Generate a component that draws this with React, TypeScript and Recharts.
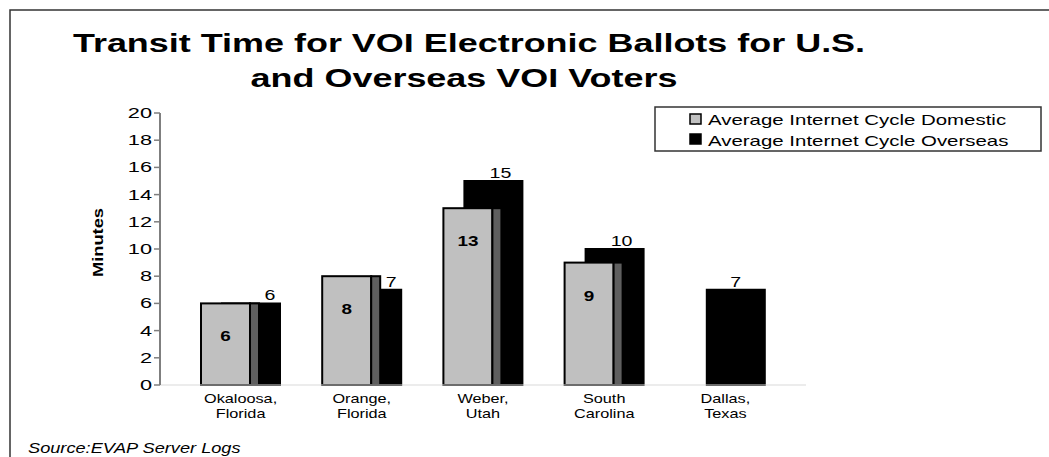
import { Bar, BarChart, LabelList, Legend, XAxis, YAxis } from 'recharts';

const FONT = "'Liberation Sans', Arial, sans-serif";

const CATEGORIES = ['Okaloosa, Florida', 'Orange, Florida', 'Weber, Utah', 'South Carolina', 'Dallas, Texas'];
const CATEGORY_LINES = [
  ['Okaloosa,', 'Florida'],
  ['Orange,', 'Florida'],
  ['Weber,', 'Utah'],
  ['South', 'Carolina'],
  ['Dallas,', 'Texas'],
];
const DOMESTIC = [6, 8, 13, 9, null];
const OVERSEAS = [6, 7, 15, 10, 7];
const Y_TICKS = [0, 2, 4, 6, 8, 10, 12, 14, 16, 18, 20];
const SERIES_NAMES = ['Average Internet Cycle Domestic', 'Average Internet Cycle Overseas'];

const rows = CATEGORIES.map((name, i) => ({
  name,
  domestic: DOMESTIC[i],
  overseas: OVERSEAS[i],
}));

// stretched text: the source picture is wider than its fonts
function SText({ x, y, sx, children, ...rest }: any) {
  return (
    <text transform={`translate(${x},${y}) scale(${sx},1)`} fontFamily={FONT} fill="#000" {...rest}>
      {children}
    </text>
  );
}

function DomesticShape(props: any) {
  const { x, y, width, height } = props;
  if (!height || height <= 0) return null;
  const side = 9;
  return (
    <g>
      <rect x={x} y={y} width={width - side} height={height} fill="#c0c0c0" stroke="#000" strokeWidth={2} />
      <rect x={x + width - side} y={y} width={side} height={height} fill="#5f5f5f" stroke="#000" strokeWidth={2} />
    </g>
  );
}

function DomesticLabel(props: any) {
  const { x, y, width, value } = props;
  if (value == null) return null;
  return (
    <SText x={x + (width - 9) / 2} y={y + 38} sx={1.35} fontSize={14} fontWeight="bold" textAnchor="middle">
      {value}
    </SText>
  );
}

function OverseasLabel(props: any) {
  const { x, y, width, value, index } = props;
  // shift right when the domestic bar sits in front of the label
  const front = DOMESTIC[index];
  const shift = front == null ? 0 : front >= value ? 19 : 7;
  return (
    <SText x={x + width / 2 + shift} y={y - 3} sx={1.4} fontSize={14} textAnchor="middle">
      {value}
    </SText>
  );
}

function XTick(props: any) {
  const { x, y, index } = props;
  const lines = CATEGORY_LINES[index] ?? [props.payload.value];
  return (
    <g>
      {lines.map((line: string, i: number) => (
        <SText key={line} x={x} y={y + 18 + i * 15} sx={1.25} fontSize={13} textAnchor="middle">
          {line}
        </SText>
      ))}
    </g>
  );
}

function YTick(props: any) {
  const { x, y, payload } = props;
  return (
    <SText x={x} y={y + 5} sx={1.45} fontSize={15} textAnchor="end">
      {payload.value}
    </SText>
  );
}

function LegendBox() {
  const swatches = ['#c0c0c0', '#000'];
  return (
    <svg width={388} height={46} style={{ display: 'block' }}>
      <rect x={1} y={1} width={386} height={44} fill="#fff" stroke="#333" strokeWidth={1.5} />
      {SERIES_NAMES.map((name, i) => (
        <g key={name}>
          <rect x={36} y={8 + i * 20} width={11} height={10} fill={swatches[i]} stroke="#000" strokeWidth={1.5} />
          <SText x={54} y={19 + i * 21} sx={1.46} fontSize={14}>
            {name}
          </SText>
        </g>
      ))}
    </svg>
  );
}

export default function App() {
  return (
    <div style={{ position: 'absolute', left: 0, top: 0, width: 1049, height: 457, background: '#fff' }}>
      <BarChart
        width={1049}
        height={457}
        data={rows}
        margin={{ top: 113, right: 243, bottom: 42, left: 100 }}
        barGap={-79}
      >
        <XAxis
          dataKey="name"
          height={30}
          padding={{ left: 20, right: 20 }}
          axisLine={{ stroke: '#d9d9d9', strokeWidth: 1 }}
          tickLine={false}
          tickSize={0}
          tickMargin={0}
          interval={0}
          tick={<XTick />}
        />
        <YAxis
          width={60}
          domain={[0, 20]}
          ticks={Y_TICKS}
          interval={0}
          axisLine={{ stroke: '#7f7f7f', strokeWidth: 2 }}
          tickLine={{ stroke: '#7f7f7f', strokeWidth: 1.5 }}
          tickSize={6}
          tick={<YTick />}
        />
        <Legend
          layout="horizontal"
          verticalAlign="middle"
          align="center"
          content={() => <LegendBox />}
          wrapperStyle={{ left: 654, top: 106, width: 388, height: 46 }}
        />
        <Bar
          dataKey="overseas"
          name={SERIES_NAMES[1]}
          barSize={58}
          fill="#000"
          stroke="#000"
          strokeWidth={2}
          isAnimationActive={false}
        >
          <LabelList dataKey="overseas" content={<OverseasLabel />} />
        </Bar>
        <Bar
          dataKey="domestic"
          name={SERIES_NAMES[0]}
          barSize={58}
          fill="#c0c0c0"
          shape={<DomesticShape />}
          isAnimationActive={false}
        >
          <LabelList dataKey="domestic" content={<DomesticLabel />} />
        </Bar>
      </BarChart>
      <svg
        width={1049}
        height={457}
        style={{ position: 'absolute', left: 0, top: 0, pointerEvents: 'none' }}
      >
        <path d="M10 457 V10 H1049" fill="none" stroke="#333" strokeWidth={1.5} />
        <SText x={469} y={52} sx={1.383} fontSize={26} fontWeight="bold" textAnchor="middle">
          Transit Time for VOI Electronic Ballots for U.S.
        </SText>
        <SText x={464} y={87} sx={1.383} fontSize={26} fontWeight="bold" textAnchor="middle">
          and Overseas VOI Voters
        </SText>
        <text
          transform="translate(103,242.5) rotate(-90) scale(1.22,1)"
          fontFamily={FONT}
          fontSize={15}
          fontWeight="bold"
          textAnchor="middle"
        >
          Minutes
        </text>
        <SText x={28} y={453} sx={1.3} fontSize={14} fontStyle="italic">
          Source:EVAP Server Logs
        </SText>
      </svg>
    </div>
  );
}
